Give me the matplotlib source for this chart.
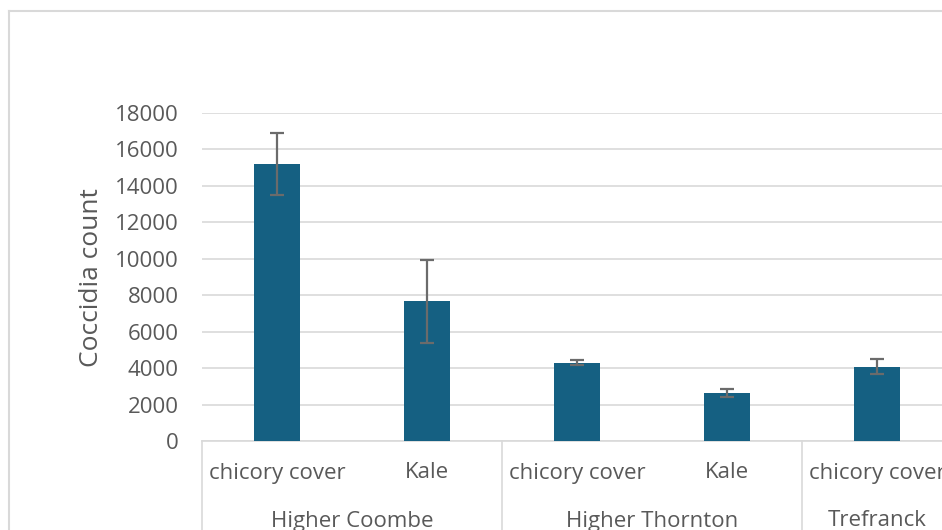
import matplotlib
matplotlib.use("Agg")
import matplotlib.pyplot as plt
from matplotlib.lines import Line2D

plt.rcParams["font.family"] = ["Open Sans", "DejaVu Sans"]

sites = ["Higher Coombe", "Higher Thornton", "Trefranck"]
crops = ["chicory cover", "Kale", "chicory cover", "Kale", "chicory cover"]
site_of_bar = [0, 0, 1, 1, 2]
counts = [15200, 7650, 4290, 2650, 4070]
errors = [1690, 2260, 130, 220, 400]
yticks = [0, 2000, 4000, 6000, 8000, 10000, 12000, 14000, 16000, 18000]

W, H = 942, 530
fig = plt.figure(figsize=(W / 100, H / 100), dpi=100)
# plot area runs a little past the right edge, as in the cropped original
ax = fig.add_axes([202 / W, (H - 441) / H, 750 / W, (441 - 112.7) / H])

text_c = "#595959"
grid_c = "#d9d9d9"
bar_c = "#156082"

x = list(range(len(counts)))
ax.bar(x, counts, width=0.313, color=bar_c, zorder=3)
ax.errorbar(x, counts, yerr=errors, fmt="none", ecolor="#6b6b6b",
            elinewidth=1.6, capsize=4.8, capthick=1.6, zorder=4)

ax.set_xlim(-0.5, len(counts) - 0.5)
ax.set_ylim(0, 18000)
ax.set_yticks(yticks)
ax.set_yticklabels([str(v) for v in yticks])
ax.tick_params(axis="y", length=0, pad=17, labelsize=16, labelcolor=text_c)
ax.set_xticks([])
ax.grid(axis="y", color=grid_c, linewidth=1.2, zorder=0)
for side in ["left", "right", "top"]:
    ax.spines[side].set_visible(False)
ax.spines["bottom"].set_color(grid_c)
ax.spines["bottom"].set_linewidth(1.2)

# two-level category axis
tr = ax.get_xaxis_transform()
axh = 441 - 112.7
for i, lab in enumerate(crops):
    ax.text(i, -(473 - 441) / axh, lab, transform=tr, ha="center", va="center",
            fontsize=16, color=text_c, clip_on=False)
bounds = [-0.5]
for s, name in enumerate(sites):
    idx = [i for i, g in enumerate(site_of_bar) if g == s]
    ax.text((idx[0] + idx[-1]) / 2, -(521 - 441) / axh, name, transform=tr,
            ha="center", va="center", fontsize=16, color=text_c, clip_on=False)
    bounds.append(idx[-1] + 0.5)
for b in bounds:
    ax.plot([b, b], [0, -0.4], transform=tr, color=grid_c, lw=1.2, clip_on=False)

fig.text(91 / W, (H - 277.5) / H, "Coccidia count", rotation=90, ha="center",
         va="center", fontsize=19, color=text_c)

# outer chart border
fig.add_artist(Line2D([9 / W, 9 / W], [0, 1 - 10.5 / H], color=grid_c, lw=1.5))
fig.add_artist(Line2D([9 / W, 1], [1 - 10.5 / H, 1 - 10.5 / H], color=grid_c, lw=1.5))

fig.savefig("out.png", dpi=100)
